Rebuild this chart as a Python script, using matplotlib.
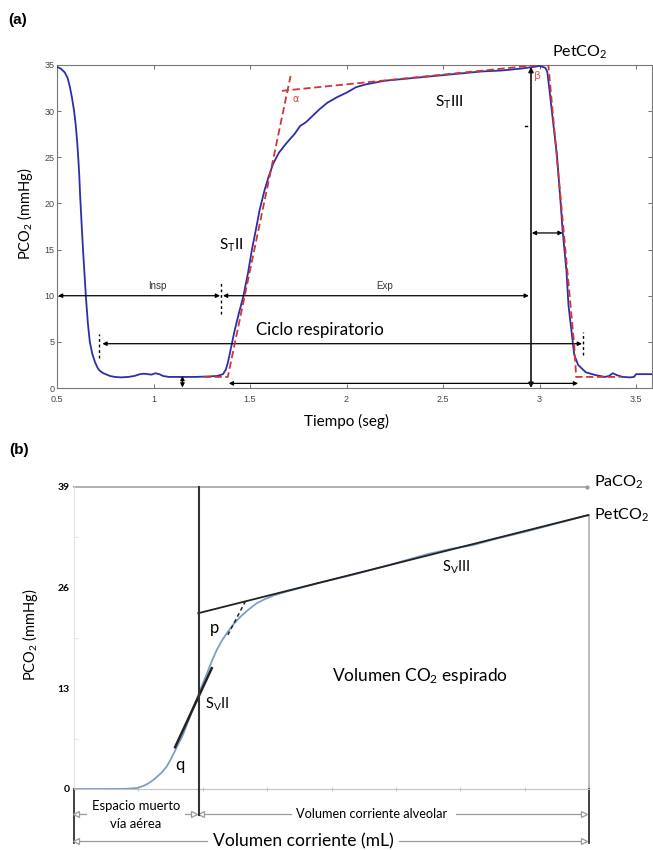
import matplotlib.pyplot as plt

plt.rcParams['font.family'] = ['Lato', 'DejaVu Sans']
plt.rcParams['mathtext.fontset'] = 'custom'
plt.rcParams['mathtext.rm'] = 'Lato'
plt.rcParams['mathtext.it'] = 'Lato:italic'
plt.rcParams['mathtext.bf'] = 'Lato:bold'

# ---------------- datos panel (a): capnograma temporal ----------------
t_a = [0.50, 0.52, 0.54, 0.555, 0.567, 0.578, 0.588, 0.597, 0.604, 0.61, 0.615, 0.62,
       0.627, 0.635, 0.643, 0.65, 0.66, 0.67, 0.683, 0.697, 0.71, 0.72, 0.74, 0.775,
       0.80, 0.83, 0.87, 0.90, 0.93, 0.95, 0.97, 0.99, 1.01, 1.03, 1.05, 1.08, 1.15,
       1.22, 1.28, 1.33, 1.36, 1.375, 1.386, 1.40, 1.42, 1.44, 1.465, 1.49, 1.51, 1.53,
       1.55, 1.575, 1.595, 1.62, 1.65, 1.68, 1.70, 1.73, 1.76, 1.79, 1.82, 1.86, 1.90,
       1.95, 2.00, 2.05, 2.10, 2.15, 2.20, 2.30, 2.40, 2.50, 2.60, 2.70, 2.80, 2.90,
       2.97, 3.00, 3.03, 3.04, 3.05, 3.07, 3.09, 3.11, 3.12, 3.14, 3.15, 3.17, 3.18,
       3.20, 3.24, 3.29, 3.34, 3.36, 3.38, 3.40, 3.43, 3.47, 3.49, 3.50, 3.58]
pco2_a = [34.8, 34.6, 34.2, 33.6, 32.6, 31.4, 30.1, 28.5, 26.8, 25.0, 23.2, 20.8,
          18.0, 14.9, 12.2, 9.8, 7.0, 5.0, 3.7, 2.8, 2.2, 1.9, 1.6, 1.3,
          1.2, 1.15, 1.2, 1.3, 1.5, 1.55, 1.5, 1.45, 1.6, 1.5, 1.3, 1.2, 1.2,
          1.2, 1.25, 1.3, 1.5, 2.0, 2.8, 4.2, 6.2, 7.9, 9.9, 12.5, 15.0, 17.1,
          19.3, 21.4, 22.8, 24.3, 25.5, 26.3, 26.8, 27.5, 28.4, 28.8, 29.4, 30.2, 30.9,
          31.5, 32.0, 32.6, 32.9, 33.1, 33.3, 33.5, 33.7, 33.9, 34.1, 34.3, 34.4, 34.6,
          34.8, 34.9, 34.7, 34.3, 32.6, 28.9, 25.3, 19.9, 17.0, 12.6, 9.0, 5.4, 3.6,
          2.5, 1.7, 1.4, 1.2, 1.3, 1.6, 1.4, 1.2, 1.15, 1.2, 1.5, 1.5]

# rectas de ajuste (rojo discontinuo)
fase2_t, fase2_v = [1.26, 1.385, 1.71], [1.2, 1.2, 33.8]
fase3_t, fase3_v = [1.665, 3.04], [32.2, 35.1]
desc_t, desc_v = [3.045, 3.18, 3.19, 3.42], [35.2, 4.6, 1.2, 1.2]

xticks_a = [0.5, 1, 1.5, 2, 2.5, 3, 3.5]
xlabels_a = ['0.5', '1', '1.5', '2', '2.5', '3', '3.5']
yticks_a = [0, 5, 10, 15, 20, 25, 30, 35]

# flechas (x0, y0, x1, y1, estilo)
flechas_a = [(0.505, 10, 1.345, 10, '<|-|>'),
             (1.36, 10, 2.945, 10, '<|-|>'),
             (0.735, 4.8, 3.22, 4.8, '<|-|>'),
             (2.96, 16.8, 3.12, 16.8, '<|-|>'),
             (1.39, 0.5, 2.95, 0.5, '<|-'),
             (2.96, 0.5, 3.20, 0.5, '-|>'),
             (1.15, 0.05, 1.15, 1.3, '<|-|>')]
marcas_t = [1.35, 0.72, 3.225]
marcas_v0 = [8.0, 3.3, 3.6]
marcas_v1 = [11.6, 5.9, 6.1]

# ---------------- datos panel (b): capnograma volumétrico ----------------
vol_b = [0.0, 0.5, 0.8, 0.98, 1.08, 1.16, 1.23, 1.30, 1.37, 1.44, 1.50, 1.57, 1.62,
         1.68, 1.74, 1.80, 1.86, 1.93, 2.00, 2.07, 2.14, 2.22, 2.30, 2.38, 2.48, 2.58,
         2.70, 2.84, 2.96, 3.09, 3.22, 3.35, 3.8, 4.3, 4.8, 5.2, 5.5, 5.85, 6.2, 6.6,
         7.0, 7.5, 8.0]
pco2_b = [0.0, 0.0, 0.02, 0.13, 0.4, 0.75, 1.16, 1.65, 2.2, 2.9, 3.8, 4.95, 5.8,
          6.75, 8.0, 9.3, 10.7, 12.1, 13.6, 15.0, 16.5, 18.0, 19.2, 20.2, 21.3, 22.2,
          23.1, 24.0, 24.5, 24.95, 25.3, 25.6, 26.6, 27.6, 28.7, 29.65, 30.35, 31.0,
          31.5, 32.4, 33.2, 34.3, 35.4]
linea3_x, linea3_y = [1.93, 8.0], [22.7, 35.4]
linea2_x, linea2_y = [1.57, 2.14], [5.4, 15.6]
linea_p_x, linea_p_y = [2.39, 2.66], [19.9, 24.2]
vd_x = 1.94          # fin espacio muerto
petco2_b = 35.4
paco2_b = 39
yticks_b = [0, 13, 26, 39]

fig = plt.figure(figsize=(6.53, 8.5), dpi=100)

# ======================= (a) =======================
ax = fig.add_axes([57/653, 1-388/850, 595/653, 323/850])
ax.plot(t_a, pco2_a, color='#2e2ea8', lw=1.3, zorder=3)
ax.plot(fase2_t, fase2_v, color='#d03535', lw=1.3, dashes=(4, 2), zorder=4)
ax.plot(fase3_t, fase3_v, color='#d03535', lw=1.3, dashes=(4, 2), zorder=4)
ax.plot(desc_t, desc_v, color='#d03535', lw=1.3, dashes=(4, 2), zorder=4)

for x0, y0, x1, y1, est in flechas_a:
    ax.annotate('', xy=(x1, y1), xytext=(x0, y0), annotation_clip=False,
                arrowprops=dict(arrowstyle=est, color='k', lw=0.9,
                                shrinkA=0, shrinkB=0, mutation_scale=6))
ax.annotate('', xy=(2.956, 34.8), xytext=(2.956, 0), annotation_clip=False,
            arrowprops=dict(arrowstyle='<|-|>', color='#111', lw=1.2,
                            shrinkA=0, shrinkB=0, mutation_scale=7))
for t, v0, v1 in zip(marcas_t, marcas_v0, marcas_v1):
    ax.plot([t, t], [v0, v1], color='k', lw=1.0, dashes=(2, 2))
ax.plot([2.925, 2.935], [28.4, 28.4], color='k', lw=1)

ax.text(1.02, 11.0, 'Insp', fontsize=7, family='Liberation Sans', color='#333', ha='center', va='center')
ax.text(2.2, 11.1, 'Exp', fontsize=7, family='Liberation Sans', color='#333', ha='center', va='center')
ax.text(1.86, 6.3, 'Ciclo respiratorio', fontsize=12.2, ha='center', va='center')
ax.text(1.40, 15.5, r'S$_\mathrm{T}$II', fontsize=11, ha='center', va='center')
ax.text(2.53, 31.0, r'S$_\mathrm{T}$III', fontsize=11, ha='center', va='center')
ax.text(3.21, 36.4, r'PetCO$_2$', fontsize=11.5, ha='center', va='center', clip_on=False)
ax.text(1.722, 31.3, 'α', fontsize=7, color='#d04040', ha='left', va='center', family='DejaVu Sans')
ax.text(2.99, 33.8, 'β', fontsize=8, color='#e06050', ha='center', va='center', family='DejaVu Sans')

ax.set_xlim(0.5, 0.5 + 595/193)
ax.set_ylim(0, 35)
ax.set_xticks(xticks_a)
ax.set_xticklabels(xlabels_a)
ax.set_yticks(yticks_a)
ax.tick_params(direction='in', top=True, right=True, length=3, width=0.6,
               labelsize=6.5, labelcolor='#444', color='#555')
ax.tick_params(axis='x', pad=5)
ax.tick_params(axis='y', pad=2)
for lab in ax.get_xticklabels() + ax.get_yticklabels():
    lab.set_family('Liberation Sans')
for s in ax.spines.values():
    s.set_color('#777')
    s.set_linewidth(0.8)

fig.text(18/653, 1-20/850, '(a)', fontsize=11, fontweight='bold', family='Liberation Sans', ha='center', va='center')
fig.text(25/653, 1-214/850, r'PCO$_2$ (mmHg)', fontsize=10.5, rotation=90, ha='center', va='center')
fig.text(347/653, 1-421/850, 'Tiempo (seg)', fontsize=11, ha='center', va='center')

# ======================= (b) =======================
bx = fig.add_axes([74/653, 1-789/850, 515/653, 302/850])
bx.plot(vol_b, pco2_b, color='#7d9fc2', lw=1.3, zorder=3)
bx.plot(linea3_x, linea3_y, color='#222', lw=1.3, zorder=4)
bx.plot(linea2_x, linea2_y, color='#222', lw=1.8, zorder=4)
bx.plot(linea_p_x, linea_p_y, color='#222', lw=1.1, dashes=(2.5, 2), zorder=4)

# PaCO2 y verticales
bx.plot([0, 7.97], [paco2_b, paco2_b], color='#aaaaaa', lw=1.3, clip_on=False)
bx.plot([7.97], [paco2_b], marker='o', ms=2, color='#999999', clip_on=False)
bx.plot([vd_x, vd_x], [paco2_b, -3.3], color='#333', lw=1.5, clip_on=False, zorder=5)
bx.plot([8.0, 8.0], [petco2_b, 0], color='#aaaaaa', lw=1.1, clip_on=False)
bx.plot([8.0, 8.0], [0, -7.0], color='#333', lw=1.3, clip_on=False)
bx.plot([0, 0], [0, -7.0], color='#333', lw=1.3, clip_on=False)
bx.plot([7.97, 8.0], [petco2_b, petco2_b], color='#888', lw=1, clip_on=False)

# cotas bajo el eje
gris = '#9a9a9a'
tramos = [([0.03, 0.19], -3.2), ([1.72, 1.86], -3.2), ([1.98, 3.37], -3.2),
          ([5.93, 7.93], -3.2), ([0.03, 2.07], -6.7), ([5.05, 7.93], -6.7)]
for xs, v in tramos:
    bx.plot(xs, [v, v], color=gris, lw=0.9, clip_on=False)
puntas_izq = [(0.03, -3.2), (1.98, -3.2), (0.03, -6.7)]
puntas_der = [(1.86, -3.2), (7.93, -3.2), (7.93, -6.7)]
for x, v in puntas_izq:
    bx.plot([x], [v], marker='<', ms=4, mfc='white', mec=gris, mew=0.9, clip_on=False)
for x, v in puntas_der:
    bx.plot([x], [v], marker='>', ms=4, mfc='white', mec=gris, mew=0.9, clip_on=False)

bx.text(0.96, -2.2, 'Espacio muerto', fontsize=9.4, ha='center', va='center')
bx.text(0.96, -4.5, 'vía aérea', fontsize=9.4, ha='center', va='center')
bx.text(4.63, -3.2, 'Volumen corriente alveolar', fontsize=9.2, ha='center', va='center')
bx.text(3.56, -6.7, 'Volumen corriente (mL)', fontsize=12.6, ha='center', va='center')

bx.text(8.08, 39.6, r'PaCO$_2$', fontsize=11.7, ha='left', va='center', clip_on=False)
bx.text(8.08, 35.3, r'PetCO$_2$', fontsize=11.5, ha='left', va='center', clip_on=False)
bx.text(5.93, 28.6, r'S$_\mathrm{V}$III', fontsize=10.5, ha='center', va='center')
bx.text(2.03, 10.9, r'S$_\mathrm{V}$II', fontsize=10.5, ha='left', va='center')
bx.text(2.19, 20.8, 'p', fontsize=12, ha='center', va='center')
bx.text(1.65, 3.1, 'q', fontsize=12, ha='center', va='center')
bx.text(5.37, 14.6, r'Volumen CO$_2$ espirado', fontsize=12.4, ha='center', va='center')

bx.set_xlim(0, 8)
bx.set_ylim(0, 39)
bx.set_xticks(range(9))
bx.set_xticklabels([])
bx.set_yticks(yticks_b)
bx.set_yticks([6.5, 19.5, 32.5], minor=True)
bx.tick_params(axis='x', direction='inout', length=3, color='#c8c8c8')
bx.tick_params(axis='y', which='major', length=0, pad=3, labelsize=7.5)
bx.tick_params(axis='y', which='minor', direction='in', length=3, color='#e2e2e2')
for lab in bx.get_yticklabels():
    lab.set_fontweight('bold')
bx.spines['top'].set_visible(False)
bx.spines['right'].set_visible(False)
bx.spines['bottom'].set_color('#c4c4c4')
bx.spines['left'].set_color('#e4e4e4')

fig.text(19/653, 1-450/850, '(b)', fontsize=11, fontweight='bold', family='Liberation Sans', ha='center', va='center')
fig.text(30/653, 1-635/850, r'PCO$_2$ (mmHg)', fontsize=10.5, rotation=90, ha='center', va='center')

fig.savefig('out.png', dpi=100)
